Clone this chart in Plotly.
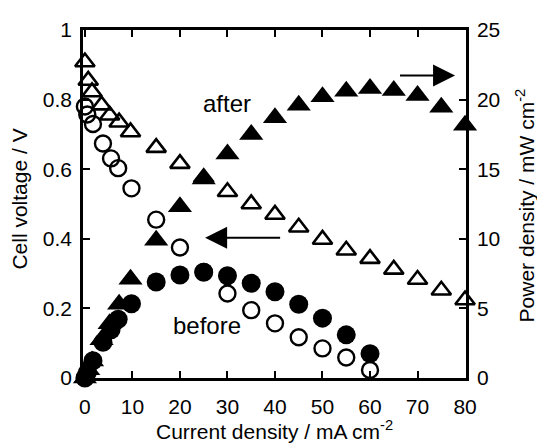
import plotly.graph_objects as go

# After treatment: cell voltage (open triangles) and power density (filled triangles)
after_v_i = [0, 0.7, 1.5, 3.5, 5.2, 7.2, 9.6, 15, 20, 25, 30, 35, 40, 45, 50, 55, 60, 65, 70, 75, 80]
after_v = [0.908, 0.855, 0.822, 0.784, 0.755, 0.735, 0.707, 0.662, 0.616, 0.575, 0.535, 0.50, 0.47, 0.433, 0.398, 0.367, 0.343, 0.312, 0.283, 0.252, 0.224]
after_p_i = [0, 0.7, 1.5, 3.5, 5.2, 7.2, 9.6, 15, 20, 25, 30, 35, 40, 45, 50, 55, 60, 65, 70, 75, 80]
after_p = [0, 0.6, 1.23, 2.74, 3.9, 5.3, 7.1, 9.9, 12.3, 14.3, 16.1, 17.5, 18.7, 19.6, 20.2, 20.6, 20.8, 20.65, 20.3, 19.45, 18.15]

# Before treatment: cell voltage (open circles) and power density (filled circles)
before_v_i = [0, 0.5, 1.7, 3.8, 5.5, 7, 9.8, 15, 20, 25, 30, 35, 40, 45, 50, 55, 60]
before_v = [0.78, 0.757, 0.73, 0.674, 0.631, 0.603, 0.545, 0.455, 0.375, 0.305, 0.243, 0.195, 0.157, 0.117, 0.085, 0.059, 0.023]
before_p_i = [0, 0.5, 1.7, 3.8, 5.5, 7, 9.8, 15, 20, 25, 30, 35, 40, 45, 50, 55, 60]
before_p = [0, 0.38, 1.24, 2.56, 3.47, 4.22, 5.34, 6.9, 7.4, 7.6, 7.35, 6.8, 6.2, 5.3, 4.3, 3.1, 1.75]

x_ticks = [0, 10, 20, 30, 40, 50, 60, 70, 80]
y_ticks = [0, 0.2, 0.4, 0.6, 0.8, 1]
y2_ticks = [0, 5, 10, 15, 20, 25]

FONT = "Liberation Sans, Arial, sans-serif"

fig = go.Figure()
fig.add_trace(go.Scatter(x=after_v_i, y=after_v, mode="markers", cliponaxis=False,
                         marker=dict(symbol="triangle-up-open", size=17, color="black",
                                     line=dict(width=2.6, color="black")), showlegend=False))
fig.add_trace(go.Scatter(x=before_v_i, y=before_v, mode="markers", cliponaxis=False,
                         marker=dict(symbol="circle-open", size=16, color="black",
                                     line=dict(width=2.4, color="black")), showlegend=False))
fig.add_trace(go.Scatter(x=before_p_i, y=before_p, mode="markers", yaxis="y2", cliponaxis=False,
                         marker=dict(symbol="circle", size=19, color="black", line=dict(width=0)),
                         showlegend=False))
fig.add_trace(go.Scatter(x=after_p_i, y=after_p, mode="markers", yaxis="y2", cliponaxis=False,
                         marker=dict(symbol="triangle-up", size=21, color="black", line=dict(width=0)),
                         showlegend=False))

axis_common = dict(showline=True, linecolor="black", linewidth=2.5, ticks="inside",
                   ticklen=7, tickwidth=2, tickcolor="black", showgrid=False, zeroline=False,
                   automargin=False,
                   tickfont=dict(family=FONT, size=21, color="black"))

fig.update_layout(
    width=537, height=446,
    margin=dict(l=83, r=71, t=30, b=68, autoexpand=False),
    paper_bgcolor="white", plot_bgcolor="white",
    font=dict(family=FONT, color="black"),
    xaxis=dict(range=[-0.4, 80.2], tickvals=x_ticks, mirror="ticks", ticklabelstandoff=8,
               **axis_common),
    yaxis=dict(range=[0, 1], tickvals=y_ticks, ticklabelstandoff=4, **axis_common),
    yaxis2=dict(range=[0, 25], tickvals=y2_ticks, overlaying="y", side="right",
                ticklabelstandoff=4, **axis_common),
    annotations=[
        dict(x=0.5, y=-0.148, xref="paper", yref="paper", xanchor="center", yanchor="middle",
             text="Current density / mA cm<sup>-2</sup>", showarrow=False,
             font=dict(size=21, family=FONT)),
        dict(x=-0.165, y=0.515, xref="paper", yref="paper", xanchor="center", yanchor="middle",
             text="Cell voltage / V", textangle=-90, showarrow=False,
             font=dict(size=21, family=FONT)),
        dict(x=1.155, y=0.497, xref="paper", yref="paper", xanchor="center", yanchor="middle",
             text="Power density / mW cm<sup>-2</sup>", textangle=-90, showarrow=False,
             font=dict(size=21, family=FONT)),
        dict(x=29.8, y=0.79, text="after", showarrow=False, font=dict(size=24, family=FONT)),
        dict(x=25.6, y=0.152, text="before", showarrow=False, font=dict(size=24, family=FONT)),
        dict(x=77.9, y=0.869, ax=66, ay=0.869, axref="x", ayref="y", xref="x", yref="y", text="",
             showarrow=True, arrowhead=2, arrowsize=2.2, arrowwidth=2, arrowcolor="black"),
        dict(x=25.3, y=0.403, ax=41.4, ay=0.403, axref="x", ayref="y", xref="x", yref="y", text="",
             showarrow=True, arrowhead=2, arrowsize=2.2, arrowwidth=2, arrowcolor="black"),
    ],
)

fig.write_html("out.html", config={"displayModeBar": False},
               post_script="document.body.style.margin='0';document.body.style.overflow='hidden';")
